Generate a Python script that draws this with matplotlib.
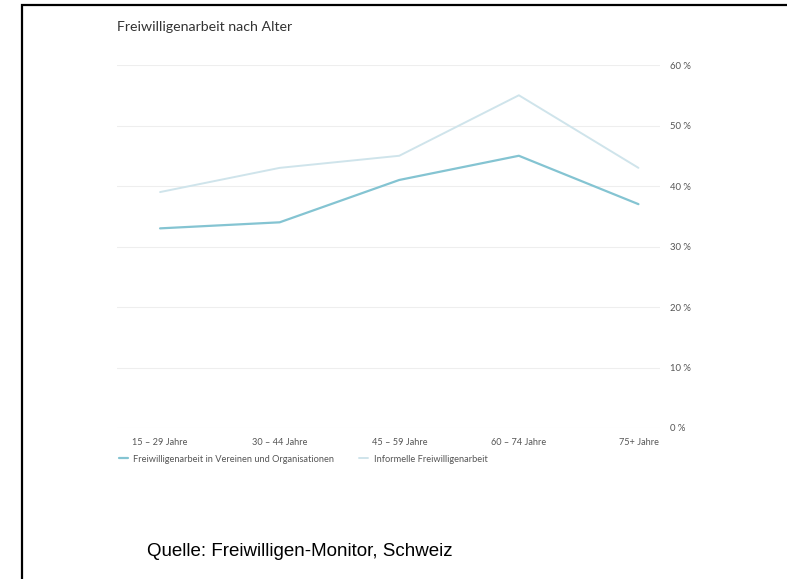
import matplotlib.pyplot as plt
from matplotlib.patches import Rectangle

# data
age_groups = ['15 – 29 Jahre', '30 – 44 Jahre', '45 – 59 Jahre', '60 – 74 Jahre', '75+ Jahre']
vereine = [33, 34, 41, 45, 37]
informell = [39, 43, 45, 55, 43]
y_ticks = [0, 10, 20, 30, 40, 50, 60]

col_vereine = '#84c4d2'
col_informell = '#cfe4eb'
txt_grey = '#555555'

fig = plt.figure(figsize=(7.87, 5.79), dpi=100)
ax = fig.add_axes([0.1487, 0.2608, 0.6899, 0.6269])

x = list(range(len(age_groups)))
ax.plot(x, vereine, color=col_vereine, lw=1.6, label='Freiwilligenarbeit in Vereinen und Organisationen',
        solid_capstyle='round', zorder=3)
ax.plot(x, informell, color=col_informell, lw=1.4, label='Informelle Freiwilligenarbeit',
        solid_capstyle='round', zorder=2)

ax.set_xlim(-0.36, 4.18)
ax.set_ylim(0, 60)
ax.set_yticks(y_ticks)
ax.set_yticklabels([f'{v} %' for v in y_ticks], fontsize=6.8, color=txt_grey, family='Lato')
ax.yaxis.tick_right()
ax.set_xticks(x)
ax.set_xticklabels(age_groups, fontsize=6.6, color=txt_grey, family='Lato')
ax.tick_params(length=0)
ax.tick_params(axis='y', pad=7)
ax.tick_params(axis='x', pad=7)
ax.grid(axis='y', color='#eeeeee', lw=0.8)
ax.set_axisbelow(True)
for s in ax.spines.values():
    s.set_visible(False)

fig.text(0.1487, 0.953, 'Freiwilligenarbeit nach Alter', fontsize=10.2, color='#333333', family='Lato',
         va='center')

fig.legend(loc='center left', bbox_to_anchor=(0.140, 0.207), ncol=2, frameon=False,
           handlelength=1.0, handletextpad=0.6, columnspacing=2.6,
           prop={'family': 'Lato', 'size': 6.7})
for t in fig.legends[0].get_texts():
    t.set_color(txt_grey)

fig.text(0.187, 0.048, 'Quelle: Freiwilligen-Monitor, Schweiz', fontsize=13.5,
         family='Liberation Sans', color='black', va='center')

# black frame round the picture
fig.patches.append(Rectangle((0.028, -0.1), 1.1, 1.092, transform=fig.transFigure,
                             fill=False, edgecolor='black', lw=1.6))

fig.savefig('out.png', dpi=100)
